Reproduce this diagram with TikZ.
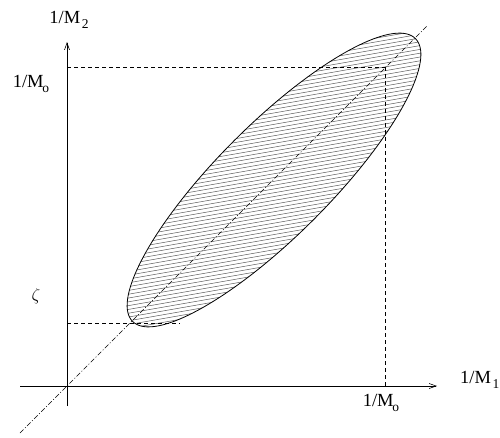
\documentclass[tikz,border=0pt]{standalone}
\usepackage{fontspec}
\setmainfont{Liberation Serif}
\usetikzlibrary{arrows.meta}
\tikzset{
  axis/.style={line width=0.6pt, -{Straight Barb[length=7pt,width=5pt]}},
  guide/.style={line width=0.6pt, dash pattern=on 4pt off 3pt},
  diag/.style={line width=0.5pt, dash pattern=on 5pt off 2pt on 1pt off 2pt},
  hatch/.style={line width=0.5pt, black!65},
  lbl/.style={inner sep=0pt, font=\fontsize{18.5}{19}\selectfont}
}
\newcommand{\subo}{\kern-1.2pt\raisebox{-4.5pt}{\fontsize{13.5}{14}\selectfont o}}
\newcommand{\subn}[1]{\kern1.5pt\raisebox{-4.5pt}{\fontsize{13.5}{14}\selectfont #1}}
\begin{document}
\begin{tikzpicture}[x=1pt,y=1pt]
\useasboundingbox (0,0) rectangle (500,437);
% coordinates
\coordinate (xs) at (20,51);
\coordinate (xe) at (437,51);
\coordinate (ys) at (67,31);
\coordinate (ye) at (67,395);
\coordinate (tl) at (67,370);
\coordinate (tr) at (385,370);
\coordinate (br) at (385,51);
\coordinate (zl) at (67,114);
\coordinate (zr) at (180,114);
\coordinate (ds) at (20,4);
\coordinate (de) at (427,411);
\coordinate (c) at (274,257);
% hatched ellipse
\begin{scope}
  \clip[rotate around={45:(c)}] (c) ellipse [x radius=200pt, y radius=56pt];
  \foreach \k in {0,...,120} {
    \draw[hatch] (100,{20+3.8*\k}) -- (460,{20+3.8*\k+63});
  }
\end{scope}
\draw[line width=0.8pt, rotate around={45:(c)}] (c) ellipse [x radius=200pt, y radius=56pt];
% axes
\draw[axis] (xs) -- (xe);
\draw[axis] (ys) -- (ye);
% guides
\draw[guide] (tl) -- (tr);
\draw[guide] (tr) -- (br);
\draw[guide] (zl) -- (zr);
\draw[diag] (ds) -- (de);
% labels
\node[lbl] (m2) at (69,417) {1/M\subn{2}};
\node[lbl] (mol) at (31,353) {1/M\subo};
\node[lbl] (zeta) at (36,141) {$\zeta$};
\node[lbl] (mob) at (381,34) {1/M\subo};
\node[lbl, anchor=west] (m1) at (460,57) {1/M\subn{1}};
\end{tikzpicture}
\end{document}
